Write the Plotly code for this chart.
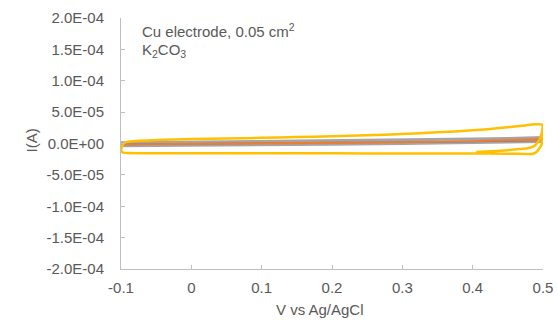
import plotly.graph_objects as go

# Cyclic voltammetry of a Cu electrode (0.05 cm2) in K2CO3
# Potential (V vs Ag/AgCl) and current (A) for each recorded sweep

blue_v = [-0.10, 0.00, 0.10, 0.20, 0.30, 0.40, 0.45, 0.50]
blue_i = [-1.6e-6, -0.8e-6, 0.2e-6, 1.0e-6, 2.0e-6, 3.3e-6, 4.0e-6, 5.0e-6]

gray_v = [-0.10, 0.00, 0.10, 0.20, 0.30, 0.40, 0.45, 0.50,
          0.50, 0.45, 0.40, 0.30, 0.20, 0.10, 0.00, -0.10]
gray_i = [1.0e-6, 2.0e-6, 3.2e-6, 4.3e-6, 5.5e-6, 7.0e-6, 8.0e-6, 9.5e-6,
          3.0e-6, 2.0e-6, 1.0e-6, 0.0, -1.0e-6, -2.0e-6, -3.0e-6, -3.5e-6]

orange_v = [-0.10, 0.00, 0.10, 0.20, 0.30, 0.40, 0.45, 0.50,
            0.50, 0.40, 0.30, 0.20, 0.10, 0.00, -0.10]
orange_i = [-1.0e-6, -0.3e-6, 0.5e-6, 1.4e-6, 2.5e-6, 4.0e-6, 5.2e-6, 7.5e-6,
            5.5e-6, 3.0e-6, 1.5e-6, 0.5e-6, -0.5e-6, -1.0e-6, -1.5e-6]

yellow_v = [0.405, 0.439, 0.467, 0.478, 0.484, 0.488, 0.4915, 0.495, 0.4975, 0.499, 0.4995,
            0.490, 0.470, 0.450, 0.425, 0.400, 0.350, 0.300, 0.250, 0.200, 0.150, 0.100, 0.050,
            0.000, -0.050, -0.075, -0.088, -0.094, -0.097, -0.099, -0.0995, -0.097,
            -0.090, 0.000, 0.100, 0.200, 0.300, 0.400, 0.450, 0.477, 0.484, 0.489,
            0.493, 0.4965, 0.4985, 0.4995, 0.4995, 0.4995]
yellow_i = [-1.37e-5, -1.16e-5, -8.9e-6, -7.5e-6, -5.7e-6, -3.5e-6, 0.6e-6, 6.0e-6, 1.4e-5, 2.2e-5, 3.0e-5,
            3.05e-5, 2.82e-5, 2.58e-5, 2.33e-5, 2.10e-5, 1.78e-5, 1.52e-5, 1.31e-5, 1.15e-5, 1.02e-5, 9.0e-6, 8.0e-6,
            7.0e-6, 5.5e-6, 4.3e-6, 3.2e-6, 1.8e-6, -1.0e-6, -6.0e-6, -1.20e-5, -1.45e-5,
            -1.52e-5, -1.55e-5, -1.56e-5, -1.57e-5, -1.58e-5, -1.60e-5, -1.63e-5, -1.68e-5, -1.68e-5, -1.50e-5,
            -1.05e-5, -5.0e-6, 0.6e-6, 8.0e-6, 2.0e-5, 3.1e-5]

x_ticks = [-0.1, 0.0, 0.1, 0.2, 0.3, 0.4, 0.5]
x_tick_labels = ["-0.1", "0", "0.1", "0.2", "0.3", "0.4", "0.5"]
y_ticks = [2.0e-4, 1.5e-4, 1.0e-4, 5.0e-5, 0.0, -5.0e-5, -1.0e-4, -1.5e-4, -2.0e-4]
y_tick_labels = ["2.0E-04", "1.5E-04", "1.0E-04", "5.0E-05", "0.0E+00",
                 "-5.0E-05", "-1.0E-04", "-1.5E-04", "-2.0E-04"]

FONT = "Liberation Sans, Arial, sans-serif"
TEXT = "#595959"
AXIS = "#BFBFBF"
FS = 15

fig = go.Figure()
fig.add_trace(go.Scatter(x=gray_v, y=gray_i, mode="lines",
                         line=dict(color="#A5A5A5", width=3)))
fig.add_trace(go.Scatter(x=blue_v, y=blue_i, mode="lines",
                         line=dict(color="#4472C4", width=1.5)))
fig.add_trace(go.Scatter(x=orange_v, y=orange_i, mode="lines",
                         line=dict(color="#ED7D31", width=1.5)))
fig.add_trace(go.Scatter(x=yellow_v, y=yellow_i, mode="lines",
                         line=dict(color="#FFC000", width=2.5, shape="spline", smoothing=0.6)))

fig.update_layout(
    width=558, height=320,
    margin=dict(l=121, r=15, t=18, b=51, autoexpand=False),
    paper_bgcolor="white", plot_bgcolor="white",
    showlegend=False,
    font=dict(family=FONT, size=FS, color=TEXT),
    xaxis=dict(range=[-0.1, 0.5], tickvals=x_ticks, ticktext=x_tick_labels, automargin=False,
               showgrid=False, zeroline=False, showline=True, linecolor=AXIS, linewidth=1,
               ticks="inside", ticklen=4, tickcolor=AXIS, ticklabelstandoff=5),
    yaxis=dict(range=[-2e-4, 2e-4], tickvals=y_ticks, ticktext=y_tick_labels, automargin=False,
               showgrid=False, zeroline=False, showline=True, linecolor=AXIS, linewidth=1,
               ticks="inside", ticklen=4, tickcolor=AXIS, ticklabelstandoff=13),
)

fig.add_annotation(text="V vs Ag/AgCl", xref="paper", yref="paper",
                   x=(320 - 121) / 422, y=(269 - 309) / 251, showarrow=False,
                   xanchor="center", yanchor="middle", font=dict(size=FS, color=TEXT))
fig.add_annotation(text="I(A)", xref="paper", yref="paper", textangle=-90,
                   x=(30.5 - 121) / 422, y=(269 - 141) / 251, showarrow=False,
                   xanchor="center", yanchor="middle", font=dict(size=FS, color=TEXT))
fig.add_annotation(text="Cu electrode, 0.05 cm<sup>2</sup>", xref="paper", yref="paper",
                   x=(140 - 121) / 422, y=(269 - 31) / 251, showarrow=False,
                   xanchor="left", yanchor="middle", font=dict(size=FS, color=TEXT))
fig.add_annotation(text="K<sub>2</sub>CO<sub>3</sub>", xref="paper", yref="paper",
                   x=(140 - 121) / 422, y=(269 - 50) / 251, showarrow=False,
                   xanchor="left", yanchor="middle", font=dict(size=FS, color=TEXT))

fig.write_html("out.html")
